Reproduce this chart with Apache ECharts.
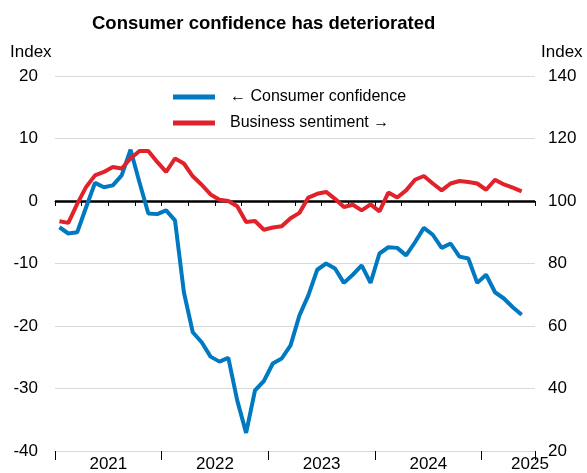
<!DOCTYPE html>
<html>
<head>
<meta charset="utf-8">
<script src="https://cdn.jsdelivr.net/npm/echarts@6/dist/echarts.min.js"></script>
<style>
html,body{margin:0;padding:0;background:#fff;}
#chart{width:587px;height:473px;}
</style>
</head>
<body>
<div id="chart"></div>
<script>
const months = ['2021-01','2021-02','2021-03','2021-04','2021-05','2021-06','2021-07','2021-08','2021-09','2021-10','2021-11','2021-12',
'2022-01','2022-02','2022-03','2022-04','2022-05','2022-06','2022-07','2022-08','2022-09','2022-10','2022-11','2022-12',
'2023-01','2023-02','2023-03','2023-04','2023-05','2023-06','2023-07','2023-08','2023-09','2023-10','2023-11','2023-12',
'2024-01','2024-02','2024-03','2024-04','2024-05','2024-06','2024-07','2024-08','2024-09','2024-10','2024-11','2024-12',
'2025-01','2025-02','2025-03','2025-04','2025-05'];
const consumerConfidence = [-4.2,-5.2,-5.0,-1.0,2.9,2.2,2.5,4.1,8.2,3.0,-2.0,-2.1,
-1.5,-3.1,-14.6,-21.0,-22.6,-24.9,-25.7,-25.1,-31.9,-37.1,-30.3,-28.8,
-26.0,-25.2,-23.1,-18.3,-15.1,-11.0,-10.0,-10.8,-13.1,-11.8,-10.3,-13.1,
-8.4,-7.4,-7.5,-8.7,-6.6,-4.3,-5.4,-7.5,-6.8,-8.9,-9.2,-13.1,
-11.8,-14.6,-15.6,-17.0,-18.2];
const businessSentiment = [93.5,93.0,99.1,104.5,108.2,109.3,110.9,110.4,113.6,116.0,116.0,112.5,
109.3,113.6,112.0,107.9,105.2,102.1,100.4,100.0,98.3,93.3,93.6,90.8,
91.5,91.9,94.5,96.2,101.1,102.3,102.9,100.7,98.1,98.8,97.0,98.9,
96.7,102.7,101.1,103.4,106.8,108.0,105.6,103.4,105.6,106.4,106.1,105.6,
103.6,106.8,105.3,104.3,103.1];
const yearLabels = ['2021','2022','2023','2024','2025'];
const seriesNames = ['\u2190 Consumer confidence', 'Business sentiment \u2192'];
const titleText = 'Consumer confidence has deteriorated';
const axisUnit = 'Index';

function monthPos(s){
  const p = s.split('-');
  return (parseInt(p[0],10)-2021)*12 + (parseInt(p[1],10)-1) + 0.5;
}
const blueData = months.map((m,i)=>[monthPos(m), consumerConfidence[i]]);
const redData = months.map((m,i)=>[monthPos(m), businessSentiment[i]]);

const FONT = 'Liberation Sans, Arial, sans-serif';
const BLUE = '#0079C1';
const RED = '#E1222B';

const chart = echarts.init(document.getElementById('chart'), null, {renderer:'canvas'});
chart.setOption({
  animation:false,
  backgroundColor:'#fff',
  title:{text:titleText, left:87, top:9, textStyle:{fontFamily:FONT, fontWeight:'bold', fontSize:18.5, color:'#000'}},
  graphic:[
    {type:'text', left:10, top:44, style:{text:axisUnit, font:'17px '+FONT, fill:'#000'}},
    {type:'text', left:541, top:44, style:{text:axisUnit, font:'17px '+FONT, fill:'#000'}}
  ],
  legend:[
    {data:[seriesNames[0]], left:168, top:84, orient:'vertical', icon:'rect', itemWidth:42, itemHeight:5,
     textStyle:{fontFamily:FONT, fontSize:16, color:'#000', padding:[0,0,0,10]}},
    {data:[seriesNames[1]], left:168, top:110, orient:'vertical', icon:'rect', itemWidth:42, itemHeight:5,
     textStyle:{fontFamily:FONT, fontSize:16, color:'#000', padding:[0,0,0,10]}}
  ],
  grid:{left:55, right:52, top:76, bottom:22, containLabel:false},
  xAxis:[
    {type:'value', min:0, max:54, interval:3,
     axisLine:{show:true, lineStyle:{color:'#000', width:1}},
     axisTick:{show:true, length:5, lineStyle:{color:'#000'}},
     splitLine:{show:false},
     axisLabel:{show:true, margin:5, showMinLabel:true, showMaxLabel:true, fontFamily:FONT, fontSize:17, color:'#000',
       formatter:function(v){
         if (v===54) return '{r|'+yearLabels[4]+'}';
         if ((v-6)%12===0 && v>=6 && v<=42) return yearLabels[(v-6)/12];
         return '';
       },
       rich:{r:{fontFamily:FONT, fontSize:17, color:'#000', padding:[0,10,0,0]}}
     }},
    {type:'value', min:0, max:54, interval:12, position:'bottom',
     axisLine:{show:false}, axisLabel:{show:false}, splitLine:{show:false},
     axisTick:{show:true, length:9, lineStyle:{color:'#000'}}}
  ],
  yAxis:[
    {type:'value', min:-40, max:20, interval:10, position:'left',
     axisLine:{show:false}, axisTick:{show:false},
     splitLine:{show:true, lineStyle:{color:'#d9d9d9', width:1}},
     axisLabel:{margin:17, fontFamily:FONT, fontSize:17, color:'#000'}},
    {type:'value', min:20, max:140, interval:20, position:'right',
     axisLine:{show:false}, axisTick:{show:false}, splitLine:{show:false},
     axisLabel:{margin:13, fontFamily:FONT, fontSize:17, color:'#000'}}
  ],
  series:[
    {name:seriesNames[0], type:'line', xAxisIndex:0, yAxisIndex:0, data:blueData, showSymbol:false, symbol:'none',
     lineStyle:{color:BLUE, width:4}, itemStyle:{color:BLUE}, z:3,
     markLine:{silent:true, symbol:'none', label:{show:false}, lineStyle:{color:'#000', width:2.5, type:'solid'},
       data:[{yAxis:0}], z:2}},
    {name:seriesNames[1], type:'line', xAxisIndex:0, yAxisIndex:1, data:redData, showSymbol:false, symbol:'none',
     lineStyle:{color:RED, width:4}, itemStyle:{color:RED}, z:3}
  ]
});
</script>
</body>
</html>
